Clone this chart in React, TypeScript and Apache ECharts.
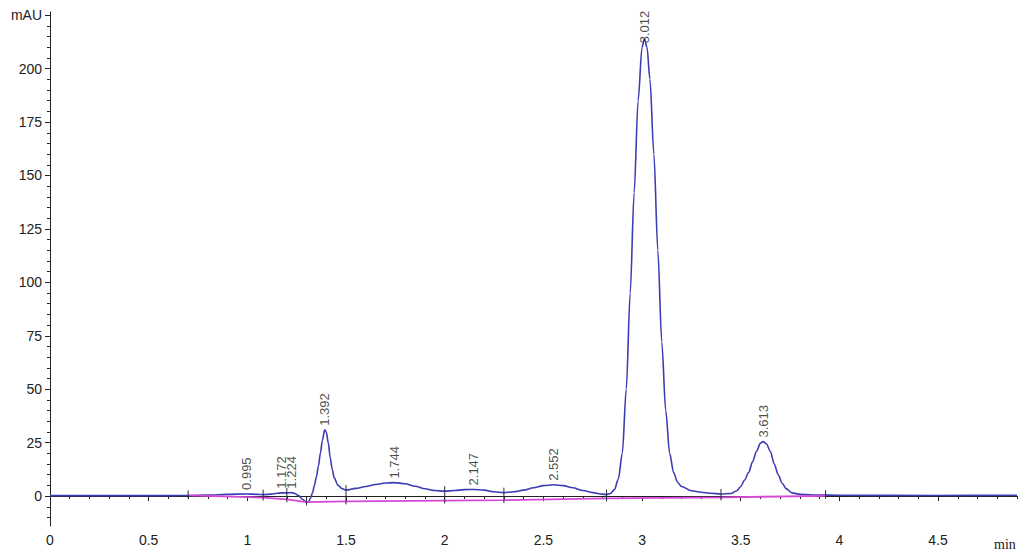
import React, { useEffect, useRef } from "react";
import * as echarts from "echarts";

// Chromatogram trace: [time (min), absorbance (mAU)]
const traceData: [number, number][] = [
  [0.0, 0.2], [0.3, 0.2], [0.6, 0.2], [0.7, 0.3], [0.8, 0.5], [0.9, 0.8],
  [0.995, 1.0], [1.05, 0.8], [1.08, 0.7], [1.12, 0.9], [1.15, 1.3], [1.172, 1.5],
  [1.2, 1.5], [1.224, 1.6], [1.24, 1.2], [1.26, 0.2], [1.28, -1.5], [1.3, -3.0],
  [1.31, -2.6], [1.32, -1.0], [1.33, 1.5], [1.34, 5], [1.35, 9], [1.36, 14],
  [1.37, 20], [1.38, 26], [1.392, 31], [1.4, 30], [1.41, 25], [1.42, 18],
  [1.43, 12.5], [1.44, 8.5], [1.46, 5], [1.48, 3.5], [1.5, 2.8], [1.55, 3.6],
  [1.6, 4.5], [1.65, 5.4], [1.7, 6.1], [1.744, 6.3], [1.8, 5.8], [1.85, 4.6],
  [1.9, 3.4], [1.95, 2.6], [2.0, 2.3], [2.05, 2.6], [2.1, 3.0], [2.147, 3.1],
  [2.2, 2.8], [2.25, 2.0], [2.3, 1.6], [2.35, 2.0], [2.4, 2.8], [2.45, 3.9],
  [2.5, 4.9], [2.552, 5.3], [2.6, 4.9], [2.65, 3.9], [2.7, 2.6], [2.75, 1.6],
  [2.8, 0.9], [2.82, 0.7], [2.84, 1.2], [2.86, 3], [2.88, 8], [2.9, 20],
  [2.92, 50], [2.94, 95], [2.96, 142], [2.98, 185], [3.0, 210], [3.012, 214],
  [3.025, 210], [3.04, 195], [3.06, 160], [3.08, 115], [3.1, 72], [3.12, 40],
  [3.14, 20], [3.16, 11], [3.18, 6.5], [3.2, 4.5], [3.25, 2.5], [3.3, 1.8],
  [3.35, 1.3], [3.4, 1.0], [3.45, 1.2], [3.48, 2.5], [3.5, 4.5], [3.52, 7.5],
  [3.54, 11], [3.56, 16], [3.58, 21], [3.6, 24.8], [3.613, 25.5], [3.63, 24.5],
  [3.65, 21], [3.67, 15], [3.69, 10], [3.71, 6], [3.73, 3.5], [3.76, 1.5],
  [3.8, 0.8], [3.9, 0.5], [4.0, 0.4], [4.5, 0.3], [4.9, 0.4],
];

// Integration baseline (drawn segments)
const baselineData: [number, number][] = [
  [0.7, 0.3], [1.08, -0.7], [1.2, -1.5], [1.3, -2.8], [1.5, -2.5], [2.0, -2.1],
  [2.3, -1.9], [2.82, -1.1], [3.4, -0.6], [3.93, 0.1],
];

// Integration boundary markers: time, trace value, baseline value
const markerTimes = [0.7, 1.08, 1.2, 1.3, 1.5, 2.0, 2.3, 2.82, 3.4, 3.93];
const markerTrace = [0.3, 0.7, 1.5, -3.0, 2.8, 2.3, 1.6, 0.7, 1.0, 0.4];
const markerBase = [0.3, -0.7, -1.5, -2.8, -2.5, -2.1, -1.9, -1.1, -0.6, 0.1];

// Peak retention-time labels
const peakTimes = [0.995, 1.172, 1.224, 1.392, 1.744, 2.147, 2.552, 3.012, 3.613];
const peakLabelHeights = [1.0, 1.5, 1.6, 31, 6.3, 3.1, 5.3, 210, 25.5];

// Axis ticks
const yMajorTicks = [0, 25, 50, 75, 100, 125, 150, 175, 200, 225];
const xMajorTicks = [0, 0.5, 1, 1.5, 2, 2.5, 3, 3.5, 4, 4.5];
const yMinorTicks: number[] = [];
for (let v = -10; v <= 225; v += 5) yMinorTicks.push(v);
const xMinorTicks: number[] = [];
for (let i = 0; i <= 49; i++) xMinorTicks.push(Math.round(i * 10) / 100);

const Y_MIN = -14;
const Y_MAX = 226.5;
const X_MIN = 0;
const X_MAX = 4.9;

const FONT = "'Liberation Sans', Arial, Helvetica, sans-serif";
const AXIS_COLOR = "#222";
const TRACE_COLOR = "#3c3cb4";
const BASE_COLOR = "#d848d8";

export default function App() {
  const ref = useRef<HTMLDivElement>(null);

  useEffect(() => {
    if (!ref.current) return;
    const chart = echarts.init(ref.current, undefined, { renderer: "svg" });

    const markerData = markerTimes.map((t, i) => [t, markerTrace[i], markerBase[i]]);
    const labelData = peakTimes.map((t, i) => ({
      value: [t, peakLabelHeights[i]],
      name: t.toFixed(3),
    }));

    const commonY = {
      type: "value" as const,
      min: Y_MIN,
      max: Y_MAX,
      position: "left" as const,
      offset: 0,
      splitLine: { show: false },
    };
    const commonX = {
      type: "value" as const,
      min: X_MIN,
      max: X_MAX,
      position: "bottom" as const,
      offset: 0,
      splitLine: { show: false },
    };

    chart.setOption({
      animation: false,
      backgroundColor: "#ffffff",
      grid: { left: 50, right: 7, top: 12, bottom: 30, containLabel: false },
      xAxis: [
        {
          ...commonX,
          axisLine: { show: true, lineStyle: { color: AXIS_COLOR, width: 1 } },
          axisTick: {
            show: true,
            customValues: xMajorTicks,
            length: 5,
            lineStyle: { color: AXIS_COLOR },
          },
          axisLabel: {
            show: true,
            customValues: xMajorTicks,
            color: AXIS_COLOR,
            fontSize: 14,
            fontFamily: FONT,
            margin: 7,
          },
        },
        {
          ...commonX,
          axisLine: { show: false },
          axisTick: {
            show: true,
            customValues: xMinorTicks,
            length: 3,
            lineStyle: { color: AXIS_COLOR },
          },
          axisLabel: { show: false },
        },
      ],
      yAxis: [
        {
          ...commonY,
          axisLine: { show: true, lineStyle: { color: AXIS_COLOR, width: 1 } },
          axisTick: {
            show: true,
            customValues: yMajorTicks,
            length: 5,
            lineStyle: { color: AXIS_COLOR },
          },
          axisLabel: {
            show: true,
            customValues: yMajorTicks,
            color: AXIS_COLOR,
            fontSize: 14,
            fontFamily: FONT,
            margin: 8,
            formatter: (v: number) => (v === 225 ? "mAU" : String(v)),
          },
        },
        {
          ...commonY,
          axisLine: { show: false },
          axisTick: {
            show: true,
            customValues: yMinorTicks,
            length: 3,
            lineStyle: { color: AXIS_COLOR },
          },
          axisLabel: { show: false },
        },
      ],
      graphic: [
        {
          type: "text",
          left: 994,
          top: 537,
          style: {
            text: "min",
            fill: AXIS_COLOR,
            fontSize: 14,
            fontFamily: "'Liberation Serif', 'Times New Roman', serif",
          },
        },
      ],
      series: [
        {
          type: "line",
          data: traceData,
          xAxisIndex: 0,
          yAxisIndex: 0,
          showSymbol: false,
          smooth: 0.3,
          smoothMonotone: "x",
          lineStyle: { color: TRACE_COLOR, width: 1.6 },
          itemStyle: { color: TRACE_COLOR },
          z: 3,
        },
        {
          type: "line",
          data: baselineData,
          xAxisIndex: 0,
          yAxisIndex: 0,
          showSymbol: false,
          lineStyle: { color: BASE_COLOR, width: 1.8 },
          itemStyle: { color: BASE_COLOR },
          z: 4,
        },
        {
          type: "custom",
          xAxisIndex: 0,
          yAxisIndex: 0,
          data: markerData,
          renderItem: (params: any, api: any) => {
            const t = api.value(0);
            const p1 = api.coord([t, api.value(1)]);
            const p2 = api.coord([t, api.value(2)]);
            const top = Math.min(p1[1], p2[1]) - 5;
            const bottom = Math.max(p1[1], p2[1]) + 3;
            return {
              type: "line",
              shape: { x1: p1[0], y1: top, x2: p1[0], y2: bottom },
              style: { stroke: "#2a2a40", lineWidth: 1 },
            };
          },
          z: 5,
        },
        {
          type: "scatter",
          xAxisIndex: 0,
          yAxisIndex: 0,
          data: labelData,
          symbolSize: 0,
          silent: true,
          label: {
            show: true,
            position: "top",
            distance: 4,
            rotate: 90,
            align: "left",
            verticalAlign: "middle",
            formatter: (p: any) => p.name,
            color: "#1a1a1a",
            fontSize: 13,
            fontFamily: FONT,
          },
          z: 6,
        },
      ],
    });

    return () => {
      chart.dispose();
    };
  }, []);

  return (
    <div
      ref={ref}
      style={{
        position: "fixed",
        left: 0,
        top: 0,
        width: 1024,
        height: 556,
        background: "#fff",
      }}
    />
  );
}
